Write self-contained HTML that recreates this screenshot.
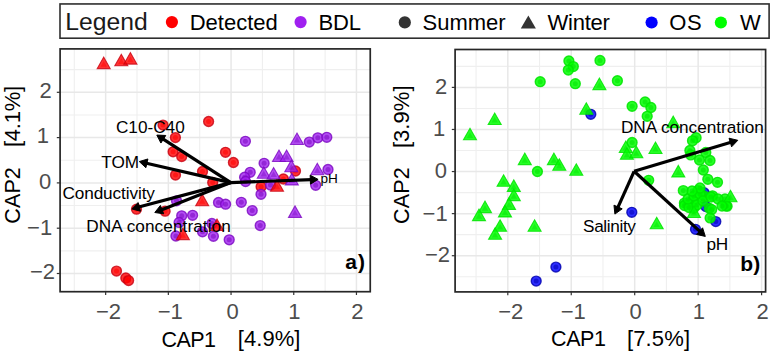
<!DOCTYPE html>
<html><head><meta charset="utf-8"><style>
html,body{margin:0;padding:0;background:#fff;}
body{width:773px;height:355px;overflow:hidden;}
svg{display:block;}
text{font-family:"Liberation Sans", sans-serif;}
.tick{font-size:21px;fill:#4D4D4D;}
.axt{font-size:21px;fill:#000;}
.leg{font-size:21.5px;fill:#000;}
.legt{font-size:23px;fill:#1a1a1a;}
.lab{font-size:16.9px;fill:#000;}
.tag{font-size:21px;font-weight:bold;fill:#000;}
</style></head><body>
<svg width="773" height="355" viewBox="0 0 773 355"><rect width="773" height="355" fill="#fff"/><rect x="60.0" y="3.95" width="709.1" height="34.25" fill="#fff" stroke="#2e2e2e" stroke-width="1.6"/><text x="65.36" y="29.50" font-size="24.7" fill="#1a1a1a">Legend</text><circle cx="171.9" cy="22.1" r="6.1" fill="#FF0000"/><text x="189.69" y="29.60" font-size="22" fill="#000">Detected</text><circle cx="300.6" cy="22.1" r="6.1" fill="#A020F0"/><text x="318.49" y="29.60" font-size="22" fill="#000" textLength="42.54" lengthAdjust="spacing">BDL</text><circle cx="404.8" cy="22.4" r="6.1" fill="#333333"/><text x="422.51" y="29.60" font-size="22" fill="#000">Summer</text><polygon points="520.8,28.6 535.9,28.6 528.35,15.5" fill="#333333"/><text x="547.49" y="29.60" font-size="22" fill="#000" textLength="62.42" lengthAdjust="spacing">Winter</text><circle cx="651.6" cy="22.5" r="6.1" fill="#0000FF"/><text x="669.25" y="29.60" font-size="22" fill="#000" textLength="32.39" lengthAdjust="spacing">OS</text><circle cx="720.9" cy="22.5" r="6.1" fill="#00FF00"/><text x="739.99" y="29.60" font-size="22" fill="#000">W</text><line x1="60.1" x2="370.25" y1="250.85" y2="250.85" stroke="#EFEFEF" stroke-width="1.1"/><line x1="60.1" x2="370.25" y1="205.55" y2="205.55" stroke="#EFEFEF" stroke-width="1.1"/><line x1="60.1" x2="370.25" y1="160.25" y2="160.25" stroke="#EFEFEF" stroke-width="1.1"/><line x1="60.1" x2="370.25" y1="114.95" y2="114.95" stroke="#EFEFEF" stroke-width="1.1"/><line x1="60.1" x2="370.25" y1="69.65" y2="69.65" stroke="#EFEFEF" stroke-width="1.1"/><line y1="48.9" y2="291.7" x1="74.30" x2="74.30" stroke="#EFEFEF" stroke-width="1.1"/><line y1="48.9" y2="291.7" x1="137.00" x2="137.00" stroke="#EFEFEF" stroke-width="1.1"/><line y1="48.9" y2="291.7" x1="199.70" x2="199.70" stroke="#EFEFEF" stroke-width="1.1"/><line y1="48.9" y2="291.7" x1="262.40" x2="262.40" stroke="#EFEFEF" stroke-width="1.1"/><line y1="48.9" y2="291.7" x1="325.10" x2="325.10" stroke="#EFEFEF" stroke-width="1.1"/><line x1="60.1" x2="370.25" y1="273.50" y2="273.50" stroke="#E8E8E8" stroke-width="1.5"/><line x1="60.1" x2="370.25" y1="228.20" y2="228.20" stroke="#E8E8E8" stroke-width="1.5"/><line x1="60.1" x2="370.25" y1="182.90" y2="182.90" stroke="#E8E8E8" stroke-width="1.5"/><line x1="60.1" x2="370.25" y1="137.60" y2="137.60" stroke="#E8E8E8" stroke-width="1.5"/><line x1="60.1" x2="370.25" y1="92.30" y2="92.30" stroke="#E8E8E8" stroke-width="1.5"/><line y1="48.9" y2="291.7" x1="105.65" x2="105.65" stroke="#E8E8E8" stroke-width="1.5"/><line y1="48.9" y2="291.7" x1="168.35" x2="168.35" stroke="#E8E8E8" stroke-width="1.5"/><line y1="48.9" y2="291.7" x1="231.05" x2="231.05" stroke="#E8E8E8" stroke-width="1.5"/><line y1="48.9" y2="291.7" x1="293.75" x2="293.75" stroke="#E8E8E8" stroke-width="1.5"/><line y1="48.9" y2="291.7" x1="356.45" x2="356.45" stroke="#E8E8E8" stroke-width="1.5"/><circle cx="208.6" cy="121.5" r="4.95" fill="#FF0000" fill-opacity="0.8" stroke="#C80010" stroke-opacity="0.8" stroke-width="1.4"/><circle cx="208.6" cy="121.5" r="2.5" fill="#FF0000" fill-opacity="0.55"/><circle cx="163.0" cy="125.1" r="4.95" fill="#FF0000" fill-opacity="0.8" stroke="#C80010" stroke-opacity="0.8" stroke-width="1.4"/><circle cx="163.0" cy="125.1" r="2.5" fill="#FF0000" fill-opacity="0.55"/><circle cx="175.4" cy="137.6" r="4.95" fill="#FF0000" fill-opacity="0.8" stroke="#C80010" stroke-opacity="0.8" stroke-width="1.4"/><circle cx="175.4" cy="137.6" r="2.5" fill="#FF0000" fill-opacity="0.55"/><circle cx="173.1" cy="151.8" r="4.95" fill="#FF0000" fill-opacity="0.8" stroke="#C80010" stroke-opacity="0.8" stroke-width="1.4"/><circle cx="173.1" cy="151.8" r="2.5" fill="#FF0000" fill-opacity="0.55"/><circle cx="181.7" cy="156.5" r="4.95" fill="#FF0000" fill-opacity="0.8" stroke="#C80010" stroke-opacity="0.8" stroke-width="1.4"/><circle cx="181.7" cy="156.5" r="2.5" fill="#FF0000" fill-opacity="0.55"/><circle cx="202.5" cy="171.5" r="4.95" fill="#FF0000" fill-opacity="0.8" stroke="#C80010" stroke-opacity="0.8" stroke-width="1.4"/><circle cx="202.5" cy="171.5" r="2.5" fill="#FF0000" fill-opacity="0.55"/><circle cx="175.5" cy="175.0" r="4.95" fill="#FF0000" fill-opacity="0.8" stroke="#C80010" stroke-opacity="0.8" stroke-width="1.4"/><circle cx="175.5" cy="175.0" r="2.5" fill="#FF0000" fill-opacity="0.55"/><circle cx="212.7" cy="182.5" r="4.95" fill="#FF0000" fill-opacity="0.8" stroke="#C80010" stroke-opacity="0.8" stroke-width="1.4"/><circle cx="212.7" cy="182.5" r="2.5" fill="#FF0000" fill-opacity="0.55"/><circle cx="225.5" cy="152.3" r="4.95" fill="#FF0000" fill-opacity="0.8" stroke="#C80010" stroke-opacity="0.8" stroke-width="1.4"/><circle cx="225.5" cy="152.3" r="2.5" fill="#FF0000" fill-opacity="0.55"/><circle cx="233.4" cy="162.5" r="4.95" fill="#FF0000" fill-opacity="0.8" stroke="#C80010" stroke-opacity="0.8" stroke-width="1.4"/><circle cx="233.4" cy="162.5" r="2.5" fill="#FF0000" fill-opacity="0.55"/><circle cx="136.5" cy="209.2" r="4.95" fill="#FF0000" fill-opacity="0.8" stroke="#C80010" stroke-opacity="0.8" stroke-width="1.4"/><circle cx="136.5" cy="209.2" r="2.5" fill="#FF0000" fill-opacity="0.55"/><circle cx="165.1" cy="211.2" r="4.95" fill="#FF0000" fill-opacity="0.8" stroke="#C80010" stroke-opacity="0.8" stroke-width="1.4"/><circle cx="165.1" cy="211.2" r="2.5" fill="#FF0000" fill-opacity="0.55"/><circle cx="116.5" cy="271.1" r="4.95" fill="#FF0000" fill-opacity="0.8" stroke="#C80010" stroke-opacity="0.8" stroke-width="1.4"/><circle cx="116.5" cy="271.1" r="2.5" fill="#FF0000" fill-opacity="0.55"/><circle cx="125.8" cy="278.0" r="4.95" fill="#FF0000" fill-opacity="0.8" stroke="#C80010" stroke-opacity="0.8" stroke-width="1.4"/><circle cx="125.8" cy="278.0" r="2.5" fill="#FF0000" fill-opacity="0.55"/><circle cx="128.6" cy="280.6" r="4.95" fill="#FF0000" fill-opacity="0.8" stroke="#C80010" stroke-opacity="0.8" stroke-width="1.4"/><circle cx="128.6" cy="280.6" r="2.5" fill="#FF0000" fill-opacity="0.55"/><circle cx="261.1" cy="186.8" r="4.95" fill="#FF0000" fill-opacity="0.8" stroke="#C80010" stroke-opacity="0.8" stroke-width="1.4"/><circle cx="261.1" cy="186.8" r="2.5" fill="#FF0000" fill-opacity="0.55"/><circle cx="283.4" cy="179.0" r="4.95" fill="#FF0000" fill-opacity="0.8" stroke="#C80010" stroke-opacity="0.8" stroke-width="1.4"/><circle cx="283.4" cy="179.0" r="2.5" fill="#FF0000" fill-opacity="0.55"/><circle cx="295.5" cy="171.0" r="4.95" fill="#FF0000" fill-opacity="0.8" stroke="#C80010" stroke-opacity="0.8" stroke-width="1.4"/><circle cx="295.5" cy="171.0" r="2.5" fill="#FF0000" fill-opacity="0.55"/><circle cx="245.4" cy="141.3" r="4.95" fill="#A020F0" fill-opacity="0.8" stroke="#7A08C0" stroke-opacity="0.8" stroke-width="1.4"/><circle cx="245.4" cy="141.3" r="2.5" fill="#7A08C0" fill-opacity="0.55"/><circle cx="309.3" cy="142.1" r="4.95" fill="#A020F0" fill-opacity="0.8" stroke="#7A08C0" stroke-opacity="0.8" stroke-width="1.4"/><circle cx="309.3" cy="142.1" r="2.5" fill="#7A08C0" fill-opacity="0.55"/><circle cx="317.8" cy="137.8" r="4.95" fill="#A020F0" fill-opacity="0.8" stroke="#7A08C0" stroke-opacity="0.8" stroke-width="1.4"/><circle cx="317.8" cy="137.8" r="2.5" fill="#7A08C0" fill-opacity="0.55"/><circle cx="326.8" cy="137.3" r="4.95" fill="#A020F0" fill-opacity="0.8" stroke="#7A08C0" stroke-opacity="0.8" stroke-width="1.4"/><circle cx="326.8" cy="137.3" r="2.5" fill="#7A08C0" fill-opacity="0.55"/><circle cx="264.1" cy="163.3" r="4.95" fill="#A020F0" fill-opacity="0.8" stroke="#7A08C0" stroke-opacity="0.8" stroke-width="1.4"/><circle cx="264.1" cy="163.3" r="2.5" fill="#7A08C0" fill-opacity="0.55"/><circle cx="250.2" cy="172.3" r="4.95" fill="#A020F0" fill-opacity="0.8" stroke="#7A08C0" stroke-opacity="0.8" stroke-width="1.4"/><circle cx="250.2" cy="172.3" r="2.5" fill="#7A08C0" fill-opacity="0.55"/><circle cx="244.6" cy="177.2" r="4.95" fill="#A020F0" fill-opacity="0.8" stroke="#7A08C0" stroke-opacity="0.8" stroke-width="1.4"/><circle cx="244.6" cy="177.2" r="2.5" fill="#7A08C0" fill-opacity="0.55"/><circle cx="245.6" cy="181.5" r="4.95" fill="#A020F0" fill-opacity="0.8" stroke="#7A08C0" stroke-opacity="0.8" stroke-width="1.4"/><circle cx="245.6" cy="181.5" r="2.5" fill="#7A08C0" fill-opacity="0.55"/><circle cx="328.0" cy="169.5" r="4.95" fill="#A020F0" fill-opacity="0.8" stroke="#7A08C0" stroke-opacity="0.8" stroke-width="1.4"/><circle cx="328.0" cy="169.5" r="2.5" fill="#7A08C0" fill-opacity="0.55"/><circle cx="315.7" cy="185.3" r="4.95" fill="#A020F0" fill-opacity="0.8" stroke="#7A08C0" stroke-opacity="0.8" stroke-width="1.4"/><circle cx="315.7" cy="185.3" r="2.5" fill="#7A08C0" fill-opacity="0.55"/><circle cx="261.0" cy="194.3" r="4.95" fill="#A020F0" fill-opacity="0.8" stroke="#7A08C0" stroke-opacity="0.8" stroke-width="1.4"/><circle cx="261.0" cy="194.3" r="2.5" fill="#7A08C0" fill-opacity="0.55"/><circle cx="241.3" cy="202.3" r="4.95" fill="#A020F0" fill-opacity="0.8" stroke="#7A08C0" stroke-opacity="0.8" stroke-width="1.4"/><circle cx="241.3" cy="202.3" r="2.5" fill="#7A08C0" fill-opacity="0.55"/><circle cx="218.5" cy="202.4" r="4.95" fill="#A020F0" fill-opacity="0.8" stroke="#7A08C0" stroke-opacity="0.8" stroke-width="1.4"/><circle cx="218.5" cy="202.4" r="2.5" fill="#7A08C0" fill-opacity="0.55"/><circle cx="225.6" cy="204.2" r="4.95" fill="#A020F0" fill-opacity="0.8" stroke="#7A08C0" stroke-opacity="0.8" stroke-width="1.4"/><circle cx="225.6" cy="204.2" r="2.5" fill="#7A08C0" fill-opacity="0.55"/><circle cx="252.2" cy="210.6" r="4.95" fill="#A020F0" fill-opacity="0.8" stroke="#7A08C0" stroke-opacity="0.8" stroke-width="1.4"/><circle cx="252.2" cy="210.6" r="2.5" fill="#7A08C0" fill-opacity="0.55"/><circle cx="260.2" cy="225.6" r="4.95" fill="#A020F0" fill-opacity="0.8" stroke="#7A08C0" stroke-opacity="0.8" stroke-width="1.4"/><circle cx="260.2" cy="225.6" r="2.5" fill="#7A08C0" fill-opacity="0.55"/><circle cx="176.5" cy="200.8" r="4.95" fill="#A020F0" fill-opacity="0.8" stroke="#7A08C0" stroke-opacity="0.8" stroke-width="1.4"/><circle cx="176.5" cy="200.8" r="2.5" fill="#7A08C0" fill-opacity="0.55"/><circle cx="181.7" cy="215.8" r="4.95" fill="#A020F0" fill-opacity="0.8" stroke="#7A08C0" stroke-opacity="0.8" stroke-width="1.4"/><circle cx="181.7" cy="215.8" r="2.5" fill="#7A08C0" fill-opacity="0.55"/><circle cx="192.6" cy="215.3" r="4.95" fill="#A020F0" fill-opacity="0.8" stroke="#7A08C0" stroke-opacity="0.8" stroke-width="1.4"/><circle cx="192.6" cy="215.3" r="2.5" fill="#7A08C0" fill-opacity="0.55"/><circle cx="179.1" cy="222.4" r="4.95" fill="#A020F0" fill-opacity="0.8" stroke="#7A08C0" stroke-opacity="0.8" stroke-width="1.4"/><circle cx="179.1" cy="222.4" r="2.5" fill="#7A08C0" fill-opacity="0.55"/><circle cx="175.9" cy="236.0" r="4.95" fill="#A020F0" fill-opacity="0.8" stroke="#7A08C0" stroke-opacity="0.8" stroke-width="1.4"/><circle cx="175.9" cy="236.0" r="2.5" fill="#7A08C0" fill-opacity="0.55"/><circle cx="202.5" cy="231.8" r="4.95" fill="#A020F0" fill-opacity="0.8" stroke="#7A08C0" stroke-opacity="0.8" stroke-width="1.4"/><circle cx="202.5" cy="231.8" r="2.5" fill="#7A08C0" fill-opacity="0.55"/><circle cx="213.4" cy="236.3" r="4.95" fill="#A020F0" fill-opacity="0.8" stroke="#7A08C0" stroke-opacity="0.8" stroke-width="1.4"/><circle cx="213.4" cy="236.3" r="2.5" fill="#7A08C0" fill-opacity="0.55"/><circle cx="211.9" cy="223.5" r="4.95" fill="#A020F0" fill-opacity="0.8" stroke="#7A08C0" stroke-opacity="0.8" stroke-width="1.4"/><circle cx="211.9" cy="223.5" r="2.5" fill="#7A08C0" fill-opacity="0.55"/><circle cx="229.2" cy="239.8" r="4.95" fill="#A020F0" fill-opacity="0.8" stroke="#7A08C0" stroke-opacity="0.8" stroke-width="1.4"/><circle cx="229.2" cy="239.8" r="2.5" fill="#7A08C0" fill-opacity="0.55"/><circle cx="270.5" cy="185.0" r="4.95" fill="#A020F0" fill-opacity="0.8" stroke="#7A08C0" stroke-opacity="0.8" stroke-width="1.4"/><circle cx="270.5" cy="185.0" r="2.5" fill="#7A08C0" fill-opacity="0.55"/><polygon points="290.50,144.50 303.50,144.50 297.00,133.00" fill="#A020F0" fill-opacity="0.8" stroke="#7A08C0" stroke-opacity="0.8" stroke-width="1.1" stroke-linejoin="miter"/><polygon points="293.75,142.58 300.25,142.58 297.00,136.83" fill="#7A08C0" fill-opacity="0.45"/><polygon points="272.50,161.50 285.50,161.50 279.00,150.00" fill="#A020F0" fill-opacity="0.8" stroke="#7A08C0" stroke-opacity="0.8" stroke-width="1.1" stroke-linejoin="miter"/><polygon points="275.75,159.58 282.25,159.58 279.00,153.83" fill="#7A08C0" fill-opacity="0.45"/><polygon points="280.10,161.50 293.10,161.50 286.60,150.00" fill="#A020F0" fill-opacity="0.8" stroke="#7A08C0" stroke-opacity="0.8" stroke-width="1.1" stroke-linejoin="miter"/><polygon points="283.35,159.58 289.85,159.58 286.60,153.83" fill="#7A08C0" fill-opacity="0.45"/><polygon points="257.30,178.30 270.30,178.30 263.80,166.80" fill="#A020F0" fill-opacity="0.8" stroke="#7A08C0" stroke-opacity="0.8" stroke-width="1.1" stroke-linejoin="miter"/><polygon points="260.55,176.38 267.05,176.38 263.80,170.63" fill="#7A08C0" fill-opacity="0.45"/><polygon points="267.10,179.00 280.10,179.00 273.60,167.50" fill="#A020F0" fill-opacity="0.8" stroke="#7A08C0" stroke-opacity="0.8" stroke-width="1.1" stroke-linejoin="miter"/><polygon points="270.35,177.08 276.85,177.08 273.60,171.33" fill="#7A08C0" fill-opacity="0.45"/><polygon points="284.80,171.70 297.80,171.70 291.30,160.20" fill="#A020F0" fill-opacity="0.8" stroke="#7A08C0" stroke-opacity="0.8" stroke-width="1.1" stroke-linejoin="miter"/><polygon points="288.05,169.78 294.55,169.78 291.30,164.03" fill="#7A08C0" fill-opacity="0.45"/><polygon points="285.30,184.90 298.30,184.90 291.80,173.40" fill="#A020F0" fill-opacity="0.8" stroke="#7A08C0" stroke-opacity="0.8" stroke-width="1.1" stroke-linejoin="miter"/><polygon points="288.55,182.98 295.05,182.98 291.80,177.23" fill="#7A08C0" fill-opacity="0.45"/><polygon points="310.80,174.80 323.80,174.80 317.30,163.30" fill="#A020F0" fill-opacity="0.8" stroke="#7A08C0" stroke-opacity="0.8" stroke-width="1.1" stroke-linejoin="miter"/><polygon points="314.05,172.88 320.55,172.88 317.30,167.13" fill="#7A08C0" fill-opacity="0.45"/><polygon points="288.50,217.40 301.50,217.40 295.00,205.90" fill="#A020F0" fill-opacity="0.8" stroke="#7A08C0" stroke-opacity="0.8" stroke-width="1.1" stroke-linejoin="miter"/><polygon points="291.75,215.48 298.25,215.48 295.00,209.73" fill="#7A08C0" fill-opacity="0.45"/><polygon points="97.20,68.60 110.20,68.60 103.70,57.10" fill="#FF0000" fill-opacity="0.8" stroke="#C80010" stroke-opacity="0.8" stroke-width="1.1" stroke-linejoin="miter"/><polygon points="100.45,66.68 106.95,66.68 103.70,60.93" fill="#FF0000" fill-opacity="0.45"/><polygon points="114.80,65.80 127.80,65.80 121.30,54.30" fill="#FF0000" fill-opacity="0.8" stroke="#C80010" stroke-opacity="0.8" stroke-width="1.1" stroke-linejoin="miter"/><polygon points="118.05,63.88 124.55,63.88 121.30,58.13" fill="#FF0000" fill-opacity="0.45"/><polygon points="123.90,64.10 136.90,64.10 130.40,52.60" fill="#FF0000" fill-opacity="0.8" stroke="#C80010" stroke-opacity="0.8" stroke-width="1.1" stroke-linejoin="miter"/><polygon points="127.15,62.18 133.65,62.18 130.40,56.43" fill="#FF0000" fill-opacity="0.45"/><polygon points="195.70,205.70 208.70,205.70 202.20,194.20" fill="#FF0000" fill-opacity="0.8" stroke="#C80010" stroke-opacity="0.8" stroke-width="1.1" stroke-linejoin="miter"/><polygon points="198.95,203.78 205.45,203.78 202.20,198.03" fill="#FF0000" fill-opacity="0.45"/><polygon points="176.40,239.60 189.40,239.60 182.90,228.10" fill="#FF0000" fill-opacity="0.8" stroke="#C80010" stroke-opacity="0.8" stroke-width="1.1" stroke-linejoin="miter"/><polygon points="179.65,237.68 186.15,237.68 182.90,231.93" fill="#FF0000" fill-opacity="0.45"/><polygon points="210.50,230.50 223.50,230.50 217.00,219.00" fill="#FF0000" fill-opacity="0.8" stroke="#C80010" stroke-opacity="0.8" stroke-width="1.1" stroke-linejoin="miter"/><polygon points="213.75,228.58 220.25,228.58 217.00,222.83" fill="#FF0000" fill-opacity="0.45"/><polygon points="270.50,191.20 283.50,191.20 277.00,179.70" fill="#FF0000" fill-opacity="0.8" stroke="#C80010" stroke-opacity="0.8" stroke-width="1.1" stroke-linejoin="miter"/><polygon points="273.75,189.28 280.25,189.28 277.00,183.53" fill="#FF0000" fill-opacity="0.45"/><line x1="230.8" y1="182.6" x2="162.05" y2="138.42" stroke="#000" stroke-width="3.2" stroke-linecap="butt"/><polygon points="156.8,135.05 165.79,135.48 160.92,143.05" fill="#000" stroke="#000" stroke-width="1" stroke-linejoin="miter"/><line x1="230.8" y1="182.6" x2="145.38" y2="162.99" stroke="#000" stroke-width="3.2" stroke-linecap="butt"/><polygon points="139.3,161.6 147.90,158.96 145.89,167.73" fill="#000" stroke="#000" stroke-width="1" stroke-linejoin="miter"/><line x1="230.8" y1="182.6" x2="137.83" y2="207.30" stroke="#000" stroke-width="3.2" stroke-linecap="butt"/><polygon points="131.8,208.9 138.18,202.55 140.49,211.25" fill="#000" stroke="#000" stroke-width="1" stroke-linejoin="miter"/><line x1="230.8" y1="182.6" x2="160.60" y2="210.22" stroke="#000" stroke-width="3.2" stroke-linecap="butt"/><polygon points="154.8,212.5 160.41,205.46 163.70,213.83" fill="#000" stroke="#000" stroke-width="1" stroke-linejoin="miter"/><line x1="230.8" y1="182.6" x2="311.87" y2="179.63" stroke="#000" stroke-width="3.2" stroke-linecap="butt"/><polygon points="318.1,179.4 310.48,184.18 310.15,175.19" fill="#000" stroke="#000" stroke-width="1" stroke-linejoin="miter"/><text x="115.94" y="133.10" font-size="17.2" fill="#000">C10-C40</text><text x="101.31" y="167.60" font-size="17.2" fill="#000">TOM</text><text x="62.44" y="198.80" font-size="17.2" fill="#000" textLength="92.49" lengthAdjust="spacing">Conductivity</text><text x="86.18" y="231.50" font-size="17.2" fill="#000" textLength="144.64" lengthAdjust="spacing">DNA concentration</text><text x="320.52" y="183.40" font-size="13.6" fill="#000">pH</text><text x="345.37" y="268.80" font-size="21" fill="#000" font-weight="bold" textLength="19.52" lengthAdjust="spacing">a)</text><rect x="60.1" y="48.9" width="310.15" height="242.80" fill="none" stroke="#262626" stroke-width="1.7"/><line x1="105.65" x2="105.65" y1="291.7" y2="295.00" stroke="#333" stroke-width="1.2"/><line y1="273.50" y2="273.50" x1="60.1" x2="56.80" stroke="#333" stroke-width="1.2"/><line x1="168.35" x2="168.35" y1="291.7" y2="295.00" stroke="#333" stroke-width="1.2"/><line y1="228.20" y2="228.20" x1="60.1" x2="56.80" stroke="#333" stroke-width="1.2"/><line x1="231.05" x2="231.05" y1="291.7" y2="295.00" stroke="#333" stroke-width="1.2"/><line y1="182.90" y2="182.90" x1="60.1" x2="56.80" stroke="#333" stroke-width="1.2"/><line x1="293.75" x2="293.75" y1="291.7" y2="295.00" stroke="#333" stroke-width="1.2"/><line y1="137.60" y2="137.60" x1="60.1" x2="56.80" stroke="#333" stroke-width="1.2"/><line x1="356.45" x2="356.45" y1="291.7" y2="295.00" stroke="#333" stroke-width="1.2"/><line y1="92.30" y2="92.30" x1="60.1" x2="56.80" stroke="#333" stroke-width="1.2"/><text x="95.91" y="319.20" font-size="22" fill="#4D4D4D">−2</text><text x="157.68" y="319.20" font-size="22" fill="#4D4D4D">−1</text><text x="226.42" y="319.20" font-size="22" fill="#4D4D4D">0</text><text x="288.14" y="319.20" font-size="22" fill="#4D4D4D">1</text><text x="351.29" y="319.20" font-size="22" fill="#4D4D4D">2</text><text x="39.49" y="98.32" font-size="22" fill="#4D4D4D">2</text><text x="36.63" y="143.41" font-size="22" fill="#4D4D4D">1</text><text x="39.01" y="189.11" font-size="22" fill="#4D4D4D">0</text><text x="27.07" y="234.51" font-size="22" fill="#4D4D4D">−1</text><text x="30.02" y="279.47" font-size="22" fill="#4D4D4D">−2</text><text x="161.43" y="346.60" font-size="21.5" fill="#000" textLength="54.45" lengthAdjust="spacing">CAP1</text><text x="237.71" y="346.40" font-size="22" fill="#000" textLength="62.73" lengthAdjust="spacing">[4.9%]</text><text transform="translate(19.65,223.67) rotate(-90) scale(1,1.0)" font-size="21.5" fill="#000" textLength="56.50" lengthAdjust="spacing">CAP2</text><text transform="translate(19.65,147.09) rotate(-90) scale(1,1.0)" font-size="22" fill="#000" textLength="61.33" lengthAdjust="spacing">[4.1%]</text><line x1="455.1" x2="765.6" y1="276.75" y2="276.75" stroke="#EFEFEF" stroke-width="1.1"/><line x1="455.1" x2="765.6" y1="234.67" y2="234.67" stroke="#EFEFEF" stroke-width="1.1"/><line x1="455.1" x2="765.6" y1="192.59" y2="192.59" stroke="#EFEFEF" stroke-width="1.1"/><line x1="455.1" x2="765.6" y1="150.51" y2="150.51" stroke="#EFEFEF" stroke-width="1.1"/><line x1="455.1" x2="765.6" y1="108.43" y2="108.43" stroke="#EFEFEF" stroke-width="1.1"/><line x1="455.1" x2="765.6" y1="66.35" y2="66.35" stroke="#EFEFEF" stroke-width="1.1"/><line y1="49.5" y2="291.9" x1="476.08" x2="476.08" stroke="#EFEFEF" stroke-width="1.1"/><line y1="49.5" y2="291.9" x1="539.53" x2="539.53" stroke="#EFEFEF" stroke-width="1.1"/><line y1="49.5" y2="291.9" x1="602.98" x2="602.98" stroke="#EFEFEF" stroke-width="1.1"/><line y1="49.5" y2="291.9" x1="666.43" x2="666.43" stroke="#EFEFEF" stroke-width="1.1"/><line y1="49.5" y2="291.9" x1="729.88" x2="729.88" stroke="#EFEFEF" stroke-width="1.1"/><line x1="455.1" x2="765.6" y1="255.71" y2="255.71" stroke="#E8E8E8" stroke-width="1.5"/><line x1="455.1" x2="765.6" y1="213.63" y2="213.63" stroke="#E8E8E8" stroke-width="1.5"/><line x1="455.1" x2="765.6" y1="171.55" y2="171.55" stroke="#E8E8E8" stroke-width="1.5"/><line x1="455.1" x2="765.6" y1="129.47" y2="129.47" stroke="#E8E8E8" stroke-width="1.5"/><line x1="455.1" x2="765.6" y1="87.39" y2="87.39" stroke="#E8E8E8" stroke-width="1.5"/><line y1="49.5" y2="291.9" x1="507.80" x2="507.80" stroke="#E8E8E8" stroke-width="1.5"/><line y1="49.5" y2="291.9" x1="571.25" x2="571.25" stroke="#E8E8E8" stroke-width="1.5"/><line y1="49.5" y2="291.9" x1="634.70" x2="634.70" stroke="#E8E8E8" stroke-width="1.5"/><line y1="49.5" y2="291.9" x1="698.15" x2="698.15" stroke="#E8E8E8" stroke-width="1.5"/><line y1="49.5" y2="291.9" x1="761.60" x2="761.60" stroke="#E8E8E8" stroke-width="1.5"/><circle cx="590.8" cy="114.3" r="4.95" fill="#0000FF" fill-opacity="0.82" stroke="#0000B0" stroke-opacity="0.82" stroke-width="1.4"/><circle cx="590.8" cy="114.3" r="2.5" fill="#0000B0" fill-opacity="0.55"/><circle cx="555.9" cy="267.1" r="4.95" fill="#0000FF" fill-opacity="0.82" stroke="#0000B0" stroke-opacity="0.82" stroke-width="1.4"/><circle cx="555.9" cy="267.1" r="2.5" fill="#0000B0" fill-opacity="0.55"/><circle cx="536.2" cy="281.1" r="4.95" fill="#0000FF" fill-opacity="0.82" stroke="#0000B0" stroke-opacity="0.82" stroke-width="1.4"/><circle cx="536.2" cy="281.1" r="2.5" fill="#0000B0" fill-opacity="0.55"/><circle cx="631.8" cy="212.3" r="4.95" fill="#0000FF" fill-opacity="0.82" stroke="#0000B0" stroke-opacity="0.82" stroke-width="1.4"/><circle cx="631.8" cy="212.3" r="2.5" fill="#0000B0" fill-opacity="0.55"/><circle cx="704.1" cy="192.7" r="4.95" fill="#0000FF" fill-opacity="0.82" stroke="#0000B0" stroke-opacity="0.82" stroke-width="1.4"/><circle cx="704.1" cy="192.7" r="2.5" fill="#0000B0" fill-opacity="0.55"/><circle cx="705.9" cy="206.5" r="4.95" fill="#0000FF" fill-opacity="0.82" stroke="#0000B0" stroke-opacity="0.82" stroke-width="1.4"/><circle cx="705.9" cy="206.5" r="2.5" fill="#0000B0" fill-opacity="0.55"/><circle cx="715.8" cy="221.6" r="4.95" fill="#0000FF" fill-opacity="0.82" stroke="#0000B0" stroke-opacity="0.82" stroke-width="1.4"/><circle cx="715.8" cy="221.6" r="2.5" fill="#0000B0" fill-opacity="0.55"/><circle cx="695.5" cy="229.3" r="4.95" fill="#0000FF" fill-opacity="0.82" stroke="#0000B0" stroke-opacity="0.82" stroke-width="1.4"/><circle cx="695.5" cy="229.3" r="2.5" fill="#0000B0" fill-opacity="0.55"/><circle cx="568.9" cy="61.0" r="4.95" fill="#00FF00" fill-opacity="0.85" stroke="#00E400" stroke-opacity="0.85" stroke-width="1.4"/><circle cx="568.9" cy="61.0" r="2.5" fill="#00E400" fill-opacity="0.55"/><circle cx="573.3" cy="66.6" r="4.95" fill="#00FF00" fill-opacity="0.85" stroke="#00E400" stroke-opacity="0.85" stroke-width="1.4"/><circle cx="573.3" cy="66.6" r="2.5" fill="#00E400" fill-opacity="0.55"/><circle cx="568.3" cy="70.1" r="4.95" fill="#00FF00" fill-opacity="0.85" stroke="#00E400" stroke-opacity="0.85" stroke-width="1.4"/><circle cx="568.3" cy="70.1" r="2.5" fill="#00E400" fill-opacity="0.55"/><circle cx="600.0" cy="60.4" r="4.95" fill="#00FF00" fill-opacity="0.85" stroke="#00E400" stroke-opacity="0.85" stroke-width="1.4"/><circle cx="600.0" cy="60.4" r="2.5" fill="#00E400" fill-opacity="0.55"/><circle cx="540.2" cy="81.7" r="4.95" fill="#00FF00" fill-opacity="0.85" stroke="#00E400" stroke-opacity="0.85" stroke-width="1.4"/><circle cx="540.2" cy="81.7" r="2.5" fill="#00E400" fill-opacity="0.55"/><circle cx="575.3" cy="83.7" r="4.95" fill="#00FF00" fill-opacity="0.85" stroke="#00E400" stroke-opacity="0.85" stroke-width="1.4"/><circle cx="575.3" cy="83.7" r="2.5" fill="#00E400" fill-opacity="0.55"/><circle cx="537.4" cy="171.5" r="4.95" fill="#00FF00" fill-opacity="0.85" stroke="#00E400" stroke-opacity="0.85" stroke-width="1.4"/><circle cx="537.4" cy="171.5" r="2.5" fill="#00E400" fill-opacity="0.55"/><circle cx="617.4" cy="80.7" r="4.95" fill="#00FF00" fill-opacity="0.85" stroke="#00E400" stroke-opacity="0.85" stroke-width="1.4"/><circle cx="617.4" cy="80.7" r="2.5" fill="#00E400" fill-opacity="0.55"/><circle cx="632.1" cy="106.3" r="4.95" fill="#00FF00" fill-opacity="0.85" stroke="#00E400" stroke-opacity="0.85" stroke-width="1.4"/><circle cx="632.1" cy="106.3" r="2.5" fill="#00E400" fill-opacity="0.55"/><circle cx="645.1" cy="101.9" r="4.95" fill="#00FF00" fill-opacity="0.85" stroke="#00E400" stroke-opacity="0.85" stroke-width="1.4"/><circle cx="645.1" cy="101.9" r="2.5" fill="#00E400" fill-opacity="0.55"/><circle cx="650.9" cy="107.5" r="4.95" fill="#00FF00" fill-opacity="0.85" stroke="#00E400" stroke-opacity="0.85" stroke-width="1.4"/><circle cx="650.9" cy="107.5" r="2.5" fill="#00E400" fill-opacity="0.55"/><circle cx="647.2" cy="116.3" r="4.95" fill="#00FF00" fill-opacity="0.85" stroke="#00E400" stroke-opacity="0.85" stroke-width="1.4"/><circle cx="647.2" cy="116.3" r="2.5" fill="#00E400" fill-opacity="0.55"/><circle cx="632.1" cy="142.5" r="4.95" fill="#00FF00" fill-opacity="0.85" stroke="#00E400" stroke-opacity="0.85" stroke-width="1.4"/><circle cx="632.1" cy="142.5" r="2.5" fill="#00E400" fill-opacity="0.55"/><circle cx="648.7" cy="180.3" r="4.95" fill="#00FF00" fill-opacity="0.85" stroke="#00E400" stroke-opacity="0.85" stroke-width="1.4"/><circle cx="648.7" cy="180.3" r="2.5" fill="#00E400" fill-opacity="0.55"/><circle cx="696.1" cy="137.7" r="4.95" fill="#00FF00" fill-opacity="0.85" stroke="#00E400" stroke-opacity="0.85" stroke-width="1.4"/><circle cx="696.1" cy="137.7" r="2.5" fill="#00E400" fill-opacity="0.55"/><circle cx="692.5" cy="140.8" r="4.95" fill="#00FF00" fill-opacity="0.85" stroke="#00E400" stroke-opacity="0.85" stroke-width="1.4"/><circle cx="692.5" cy="140.8" r="2.5" fill="#00E400" fill-opacity="0.55"/><circle cx="689.9" cy="150.4" r="4.95" fill="#00FF00" fill-opacity="0.85" stroke="#00E400" stroke-opacity="0.85" stroke-width="1.4"/><circle cx="689.9" cy="150.4" r="2.5" fill="#00E400" fill-opacity="0.55"/><circle cx="690.8" cy="154.9" r="4.95" fill="#00FF00" fill-opacity="0.85" stroke="#00E400" stroke-opacity="0.85" stroke-width="1.4"/><circle cx="690.8" cy="154.9" r="2.5" fill="#00E400" fill-opacity="0.55"/><circle cx="705.8" cy="152.5" r="4.95" fill="#00FF00" fill-opacity="0.85" stroke="#00E400" stroke-opacity="0.85" stroke-width="1.4"/><circle cx="705.8" cy="152.5" r="2.5" fill="#00E400" fill-opacity="0.55"/><circle cx="699.5" cy="160.0" r="4.95" fill="#00FF00" fill-opacity="0.85" stroke="#00E400" stroke-opacity="0.85" stroke-width="1.4"/><circle cx="699.5" cy="160.0" r="2.5" fill="#00E400" fill-opacity="0.55"/><circle cx="710.0" cy="160.5" r="4.95" fill="#00FF00" fill-opacity="0.85" stroke="#00E400" stroke-opacity="0.85" stroke-width="1.4"/><circle cx="710.0" cy="160.5" r="2.5" fill="#00E400" fill-opacity="0.55"/><circle cx="703.3" cy="170.0" r="4.95" fill="#00FF00" fill-opacity="0.85" stroke="#00E400" stroke-opacity="0.85" stroke-width="1.4"/><circle cx="703.3" cy="170.0" r="2.5" fill="#00E400" fill-opacity="0.55"/><circle cx="707.8" cy="179.3" r="4.95" fill="#00FF00" fill-opacity="0.85" stroke="#00E400" stroke-opacity="0.85" stroke-width="1.4"/><circle cx="707.8" cy="179.3" r="2.5" fill="#00E400" fill-opacity="0.55"/><circle cx="717.5" cy="182.3" r="4.95" fill="#00FF00" fill-opacity="0.85" stroke="#00E400" stroke-opacity="0.85" stroke-width="1.4"/><circle cx="717.5" cy="182.3" r="2.5" fill="#00E400" fill-opacity="0.55"/><circle cx="683.3" cy="190.6" r="4.95" fill="#00FF00" fill-opacity="0.85" stroke="#00E400" stroke-opacity="0.85" stroke-width="1.4"/><circle cx="683.3" cy="190.6" r="2.5" fill="#00E400" fill-opacity="0.55"/><circle cx="697.9" cy="190.6" r="4.95" fill="#00FF00" fill-opacity="0.85" stroke="#00E400" stroke-opacity="0.85" stroke-width="1.4"/><circle cx="697.9" cy="190.6" r="2.5" fill="#00E400" fill-opacity="0.55"/><circle cx="712.5" cy="195.8" r="4.95" fill="#00FF00" fill-opacity="0.85" stroke="#00E400" stroke-opacity="0.85" stroke-width="1.4"/><circle cx="712.5" cy="195.8" r="2.5" fill="#00E400" fill-opacity="0.55"/><circle cx="725.0" cy="199.0" r="4.95" fill="#00FF00" fill-opacity="0.85" stroke="#00E400" stroke-opacity="0.85" stroke-width="1.4"/><circle cx="725.0" cy="199.0" r="2.5" fill="#00E400" fill-opacity="0.55"/><circle cx="727.1" cy="206.2" r="4.95" fill="#00FF00" fill-opacity="0.85" stroke="#00E400" stroke-opacity="0.85" stroke-width="1.4"/><circle cx="727.1" cy="206.2" r="2.5" fill="#00E400" fill-opacity="0.55"/><circle cx="684.4" cy="203.1" r="4.95" fill="#00FF00" fill-opacity="0.85" stroke="#00E400" stroke-opacity="0.85" stroke-width="1.4"/><circle cx="684.4" cy="203.1" r="2.5" fill="#00E400" fill-opacity="0.55"/><circle cx="692.7" cy="201.0" r="4.95" fill="#00FF00" fill-opacity="0.85" stroke="#00E400" stroke-opacity="0.85" stroke-width="1.4"/><circle cx="692.7" cy="201.0" r="2.5" fill="#00E400" fill-opacity="0.55"/><circle cx="709.4" cy="208.3" r="4.95" fill="#00FF00" fill-opacity="0.85" stroke="#00E400" stroke-opacity="0.85" stroke-width="1.4"/><circle cx="709.4" cy="208.3" r="2.5" fill="#00E400" fill-opacity="0.55"/><circle cx="693.7" cy="208.3" r="4.95" fill="#00FF00" fill-opacity="0.85" stroke="#00E400" stroke-opacity="0.85" stroke-width="1.4"/><circle cx="693.7" cy="208.3" r="2.5" fill="#00E400" fill-opacity="0.55"/><circle cx="711.7" cy="209.6" r="4.95" fill="#00FF00" fill-opacity="0.85" stroke="#00E400" stroke-opacity="0.85" stroke-width="1.4"/><circle cx="711.7" cy="209.6" r="2.5" fill="#00E400" fill-opacity="0.55"/><circle cx="710.1" cy="217.9" r="4.95" fill="#00FF00" fill-opacity="0.85" stroke="#00E400" stroke-opacity="0.85" stroke-width="1.4"/><circle cx="710.1" cy="217.9" r="2.5" fill="#00E400" fill-opacity="0.55"/><circle cx="704.0" cy="196.0" r="4.95" fill="#00FF00" fill-opacity="0.85" stroke="#00E400" stroke-opacity="0.85" stroke-width="1.4"/><circle cx="704.0" cy="196.0" r="2.5" fill="#00E400" fill-opacity="0.55"/><circle cx="726.2" cy="205.9" r="4.95" fill="#00FF00" fill-opacity="0.85" stroke="#00E400" stroke-opacity="0.85" stroke-width="1.4"/><circle cx="726.2" cy="205.9" r="2.5" fill="#00E400" fill-opacity="0.55"/><circle cx="684.5" cy="205.5" r="4.95" fill="#00FF00" fill-opacity="0.85" stroke="#00E400" stroke-opacity="0.85" stroke-width="1.4"/><circle cx="684.5" cy="205.5" r="2.5" fill="#00E400" fill-opacity="0.55"/><circle cx="689.0" cy="207.5" r="4.95" fill="#00FF00" fill-opacity="0.85" stroke="#00E400" stroke-opacity="0.85" stroke-width="1.4"/><circle cx="689.0" cy="207.5" r="2.5" fill="#00E400" fill-opacity="0.55"/><circle cx="688.0" cy="199.0" r="4.95" fill="#00FF00" fill-opacity="0.85" stroke="#00E400" stroke-opacity="0.85" stroke-width="1.4"/><circle cx="688.0" cy="199.0" r="2.5" fill="#00E400" fill-opacity="0.55"/><circle cx="694.0" cy="196.0" r="4.95" fill="#00FF00" fill-opacity="0.85" stroke="#00E400" stroke-opacity="0.85" stroke-width="1.4"/><circle cx="694.0" cy="196.0" r="2.5" fill="#00E400" fill-opacity="0.55"/><circle cx="700.0" cy="194.0" r="4.95" fill="#00FF00" fill-opacity="0.85" stroke="#00E400" stroke-opacity="0.85" stroke-width="1.4"/><circle cx="700.0" cy="194.0" r="2.5" fill="#00E400" fill-opacity="0.55"/><circle cx="697.0" cy="205.0" r="4.95" fill="#00FF00" fill-opacity="0.85" stroke="#00E400" stroke-opacity="0.85" stroke-width="1.4"/><circle cx="697.0" cy="205.0" r="2.5" fill="#00E400" fill-opacity="0.55"/><circle cx="703.0" cy="201.0" r="4.95" fill="#00FF00" fill-opacity="0.85" stroke="#00E400" stroke-opacity="0.85" stroke-width="1.4"/><circle cx="703.0" cy="201.0" r="2.5" fill="#00E400" fill-opacity="0.55"/><circle cx="711.0" cy="197.0" r="4.95" fill="#00FF00" fill-opacity="0.85" stroke="#00E400" stroke-opacity="0.85" stroke-width="1.4"/><circle cx="711.0" cy="197.0" r="2.5" fill="#00E400" fill-opacity="0.55"/><circle cx="700.0" cy="188.0" r="4.95" fill="#00FF00" fill-opacity="0.85" stroke="#00E400" stroke-opacity="0.85" stroke-width="1.4"/><circle cx="700.0" cy="188.0" r="2.5" fill="#00E400" fill-opacity="0.55"/><circle cx="692.0" cy="191.0" r="4.95" fill="#00FF00" fill-opacity="0.85" stroke="#00E400" stroke-opacity="0.85" stroke-width="1.4"/><circle cx="692.0" cy="191.0" r="2.5" fill="#00E400" fill-opacity="0.55"/><circle cx="718.0" cy="199.0" r="4.95" fill="#00FF00" fill-opacity="0.85" stroke="#00E400" stroke-opacity="0.85" stroke-width="1.4"/><circle cx="718.0" cy="199.0" r="2.5" fill="#00E400" fill-opacity="0.55"/><circle cx="722.0" cy="206.0" r="4.95" fill="#00FF00" fill-opacity="0.85" stroke="#00E400" stroke-opacity="0.85" stroke-width="1.4"/><circle cx="722.0" cy="206.0" r="2.5" fill="#00E400" fill-opacity="0.55"/><polygon points="592.90,89.60 605.90,89.60 599.40,78.10" fill="#00FF00" fill-opacity="0.85" stroke="#00E400" stroke-opacity="0.85" stroke-width="1.1" stroke-linejoin="miter"/><polygon points="596.15,87.68 602.65,87.68 599.40,81.93" fill="#00E400" fill-opacity="0.45"/><polygon points="579.80,114.30 592.80,114.30 586.30,102.80" fill="#00FF00" fill-opacity="0.85" stroke="#00E400" stroke-opacity="0.85" stroke-width="1.1" stroke-linejoin="miter"/><polygon points="583.05,112.38 589.55,112.38 586.30,106.63" fill="#00E400" fill-opacity="0.45"/><polygon points="488.20,124.50 501.20,124.50 494.70,113.00" fill="#00FF00" fill-opacity="0.85" stroke="#00E400" stroke-opacity="0.85" stroke-width="1.1" stroke-linejoin="miter"/><polygon points="491.45,122.58 497.95,122.58 494.70,116.83" fill="#00E400" fill-opacity="0.45"/><polygon points="463.50,139.80 476.50,139.80 470.00,128.30" fill="#00FF00" fill-opacity="0.85" stroke="#00E400" stroke-opacity="0.85" stroke-width="1.1" stroke-linejoin="miter"/><polygon points="466.75,137.88 473.25,137.88 470.00,132.13" fill="#00E400" fill-opacity="0.45"/><polygon points="518.30,164.60 531.30,164.60 524.80,153.10" fill="#00FF00" fill-opacity="0.85" stroke="#00E400" stroke-opacity="0.85" stroke-width="1.1" stroke-linejoin="miter"/><polygon points="521.55,162.68 528.05,162.68 524.80,156.93" fill="#00E400" fill-opacity="0.45"/><polygon points="547.40,164.60 560.40,164.60 553.90,153.10" fill="#00FF00" fill-opacity="0.85" stroke="#00E400" stroke-opacity="0.85" stroke-width="1.1" stroke-linejoin="miter"/><polygon points="550.65,162.68 557.15,162.68 553.90,156.93" fill="#00E400" fill-opacity="0.45"/><polygon points="552.80,170.30 565.80,170.30 559.30,158.80" fill="#00FF00" fill-opacity="0.85" stroke="#00E400" stroke-opacity="0.85" stroke-width="1.1" stroke-linejoin="miter"/><polygon points="556.05,168.38 562.55,168.38 559.30,162.63" fill="#00E400" fill-opacity="0.45"/><polygon points="569.80,175.30 582.80,175.30 576.30,163.80" fill="#00FF00" fill-opacity="0.85" stroke="#00E400" stroke-opacity="0.85" stroke-width="1.1" stroke-linejoin="miter"/><polygon points="573.05,173.38 579.55,173.38 576.30,167.63" fill="#00E400" fill-opacity="0.45"/><polygon points="497.10,186.30 510.10,186.30 503.60,174.80" fill="#00FF00" fill-opacity="0.85" stroke="#00E400" stroke-opacity="0.85" stroke-width="1.1" stroke-linejoin="miter"/><polygon points="500.35,184.38 506.85,184.38 503.60,178.63" fill="#00E400" fill-opacity="0.45"/><polygon points="507.30,191.40 520.30,191.40 513.80,179.90" fill="#00FF00" fill-opacity="0.85" stroke="#00E400" stroke-opacity="0.85" stroke-width="1.1" stroke-linejoin="miter"/><polygon points="510.55,189.48 517.05,189.48 513.80,183.73" fill="#00E400" fill-opacity="0.45"/><polygon points="507.30,200.60 520.30,200.60 513.80,189.10" fill="#00FF00" fill-opacity="0.85" stroke="#00E400" stroke-opacity="0.85" stroke-width="1.1" stroke-linejoin="miter"/><polygon points="510.55,198.68 517.05,198.68 513.80,192.93" fill="#00E400" fill-opacity="0.45"/><polygon points="502.50,209.40 515.50,209.40 509.00,197.90" fill="#00FF00" fill-opacity="0.85" stroke="#00E400" stroke-opacity="0.85" stroke-width="1.1" stroke-linejoin="miter"/><polygon points="505.75,207.48 512.25,207.48 509.00,201.73" fill="#00E400" fill-opacity="0.45"/><polygon points="498.50,216.90 511.50,216.90 505.00,205.40" fill="#00FF00" fill-opacity="0.85" stroke="#00E400" stroke-opacity="0.85" stroke-width="1.1" stroke-linejoin="miter"/><polygon points="501.75,214.98 508.25,214.98 505.00,209.23" fill="#00E400" fill-opacity="0.45"/><polygon points="478.50,212.60 491.50,212.60 485.00,201.10" fill="#00FF00" fill-opacity="0.85" stroke="#00E400" stroke-opacity="0.85" stroke-width="1.1" stroke-linejoin="miter"/><polygon points="481.75,210.68 488.25,210.68 485.00,204.93" fill="#00E400" fill-opacity="0.45"/><polygon points="472.50,220.60 485.50,220.60 479.00,209.10" fill="#00FF00" fill-opacity="0.85" stroke="#00E400" stroke-opacity="0.85" stroke-width="1.1" stroke-linejoin="miter"/><polygon points="475.75,218.68 482.25,218.68 479.00,212.93" fill="#00E400" fill-opacity="0.45"/><polygon points="493.60,231.30 506.60,231.30 500.10,219.80" fill="#00FF00" fill-opacity="0.85" stroke="#00E400" stroke-opacity="0.85" stroke-width="1.1" stroke-linejoin="miter"/><polygon points="496.85,229.38 503.35,229.38 500.10,223.63" fill="#00E400" fill-opacity="0.45"/><polygon points="488.60,239.30 501.60,239.30 495.10,227.80" fill="#00FF00" fill-opacity="0.85" stroke="#00E400" stroke-opacity="0.85" stroke-width="1.1" stroke-linejoin="miter"/><polygon points="491.85,237.38 498.35,237.38 495.10,231.63" fill="#00E400" fill-opacity="0.45"/><polygon points="528.10,231.30 541.10,231.30 534.60,219.80" fill="#00FF00" fill-opacity="0.85" stroke="#00E400" stroke-opacity="0.85" stroke-width="1.1" stroke-linejoin="miter"/><polygon points="531.35,229.38 537.85,229.38 534.60,223.63" fill="#00E400" fill-opacity="0.45"/><polygon points="666.70,127.60 679.70,127.60 673.20,116.10" fill="#00FF00" fill-opacity="0.85" stroke="#00E400" stroke-opacity="0.85" stroke-width="1.1" stroke-linejoin="miter"/><polygon points="669.95,125.68 676.45,125.68 673.20,119.93" fill="#00E400" fill-opacity="0.45"/><polygon points="619.30,152.50 632.30,152.50 625.80,141.00" fill="#00FF00" fill-opacity="0.85" stroke="#00E400" stroke-opacity="0.85" stroke-width="1.1" stroke-linejoin="miter"/><polygon points="622.55,150.58 629.05,150.58 625.80,144.83" fill="#00E400" fill-opacity="0.45"/><polygon points="620.40,159.30 633.40,159.30 626.90,147.80" fill="#00FF00" fill-opacity="0.85" stroke="#00E400" stroke-opacity="0.85" stroke-width="1.1" stroke-linejoin="miter"/><polygon points="623.65,157.38 630.15,157.38 626.90,151.63" fill="#00E400" fill-opacity="0.45"/><polygon points="629.80,157.70 642.80,157.70 636.30,146.20" fill="#00FF00" fill-opacity="0.85" stroke="#00E400" stroke-opacity="0.85" stroke-width="1.1" stroke-linejoin="miter"/><polygon points="633.05,155.78 639.55,155.78 636.30,150.03" fill="#00E400" fill-opacity="0.45"/><polygon points="649.00,153.50 662.00,153.50 655.50,142.00" fill="#00FF00" fill-opacity="0.85" stroke="#00E400" stroke-opacity="0.85" stroke-width="1.1" stroke-linejoin="miter"/><polygon points="652.25,151.58 658.75,151.58 655.50,145.83" fill="#00E400" fill-opacity="0.45"/><polygon points="671.80,176.90 684.80,176.90 678.30,165.40" fill="#00FF00" fill-opacity="0.85" stroke="#00E400" stroke-opacity="0.85" stroke-width="1.1" stroke-linejoin="miter"/><polygon points="675.05,174.98 681.55,174.98 678.30,169.23" fill="#00E400" fill-opacity="0.45"/><polygon points="724.00,201.80 737.00,201.80 730.50,190.30" fill="#00FF00" fill-opacity="0.85" stroke="#00E400" stroke-opacity="0.85" stroke-width="1.1" stroke-linejoin="miter"/><polygon points="727.25,199.88 733.75,199.88 730.50,194.13" fill="#00E400" fill-opacity="0.45"/><polygon points="687.50,217.50 700.50,217.50 694.00,206.00" fill="#00FF00" fill-opacity="0.85" stroke="#00E400" stroke-opacity="0.85" stroke-width="1.1" stroke-linejoin="miter"/><polygon points="690.75,215.58 697.25,215.58 694.00,209.83" fill="#00E400" fill-opacity="0.45"/><polygon points="650.20,228.80 663.20,228.80 656.70,217.30" fill="#00FF00" fill-opacity="0.85" stroke="#00E400" stroke-opacity="0.85" stroke-width="1.1" stroke-linejoin="miter"/><polygon points="653.45,226.88 659.95,226.88 656.70,221.13" fill="#00E400" fill-opacity="0.45"/><line x1="634.1" y1="171.3" x2="731.83" y2="142.09" stroke="#000" stroke-width="3.2" stroke-linecap="butt"/><polygon points="737.8,140.3 731.62,146.84 729.04,138.22" fill="#000" stroke="#000" stroke-width="1" stroke-linejoin="miter"/><line x1="634.1" y1="171.3" x2="617.45" y2="208.41" stroke="#000" stroke-width="3.2" stroke-linecap="butt"/><polygon points="614.9,214.1 613.98,205.15 622.20,208.83" fill="#000" stroke="#000" stroke-width="1" stroke-linejoin="miter"/><line x1="634.1" y1="171.3" x2="700.70" y2="232.19" stroke="#000" stroke-width="3.2" stroke-linecap="butt"/><polygon points="705.3,236.4 696.51,234.46 702.58,227.82" fill="#000" stroke="#000" stroke-width="1" stroke-linejoin="miter"/><text x="620.98" y="133.10" font-size="17.2" fill="#000" textLength="142.84" lengthAdjust="spacing">DNA concentration</text><text x="583.03" y="231.80" font-size="17.2" fill="#000" textLength="52.89" lengthAdjust="spacing">Salinity</text><text x="706.58" y="249.90" font-size="17.2" fill="#000" textLength="21.65" lengthAdjust="spacing">pH</text><text x="740.13" y="270.80" font-size="21" fill="#000" font-weight="bold" textLength="20.24" lengthAdjust="spacing">b)</text><rect x="455.1" y="49.5" width="310.50" height="242.40" fill="none" stroke="#262626" stroke-width="1.7"/><line x1="507.80" x2="507.80" y1="291.9" y2="295.20" stroke="#333" stroke-width="1.2"/><line y1="255.71" y2="255.71" x1="455.1" x2="451.80" stroke="#333" stroke-width="1.2"/><line x1="571.25" x2="571.25" y1="291.9" y2="295.20" stroke="#333" stroke-width="1.2"/><line y1="213.63" y2="213.63" x1="455.1" x2="451.80" stroke="#333" stroke-width="1.2"/><line x1="634.70" x2="634.70" y1="291.9" y2="295.20" stroke="#333" stroke-width="1.2"/><line y1="171.55" y2="171.55" x1="455.1" x2="451.80" stroke="#333" stroke-width="1.2"/><line x1="698.15" x2="698.15" y1="291.9" y2="295.20" stroke="#333" stroke-width="1.2"/><line y1="129.47" y2="129.47" x1="455.1" x2="451.80" stroke="#333" stroke-width="1.2"/><line x1="761.60" x2="761.60" y1="291.9" y2="295.20" stroke="#333" stroke-width="1.2"/><line y1="87.39" y2="87.39" x1="455.1" x2="451.80" stroke="#333" stroke-width="1.2"/><text x="498.26" y="319.20" font-size="22" fill="#4D4D4D">−2</text><text x="560.73" y="319.20" font-size="22" fill="#4D4D4D">−1</text><text x="629.42" y="319.20" font-size="22" fill="#4D4D4D">0</text><text x="692.79" y="319.20" font-size="22" fill="#4D4D4D">1</text><text x="756.39" y="319.20" font-size="22" fill="#4D4D4D">2</text><text x="434.89" y="93.57" font-size="22" fill="#4D4D4D">2</text><text x="433.04" y="135.86" font-size="22" fill="#4D4D4D">1</text><text x="434.81" y="178.26" font-size="22" fill="#4D4D4D">0</text><text x="422.56" y="220.86" font-size="22" fill="#4D4D4D">−1</text><text x="425.02" y="262.27" font-size="22" fill="#4D4D4D">−2</text><text x="551.12" y="346.30" font-size="21.5" fill="#000" textLength="54.75" lengthAdjust="spacing">CAP1</text><text x="627.00" y="346.20" font-size="22" fill="#000" textLength="63.03" lengthAdjust="spacing">[7.5%]</text><text transform="translate(408.90,223.88) rotate(-90) scale(1,1.0)" font-size="21.5" fill="#000" textLength="56.60" lengthAdjust="spacing">CAP2</text><text transform="translate(408.90,148.09) rotate(-90) scale(1,1.0)" font-size="22" fill="#000" textLength="62.63" lengthAdjust="spacing">[3.9%]</text></svg>
</body></html>
